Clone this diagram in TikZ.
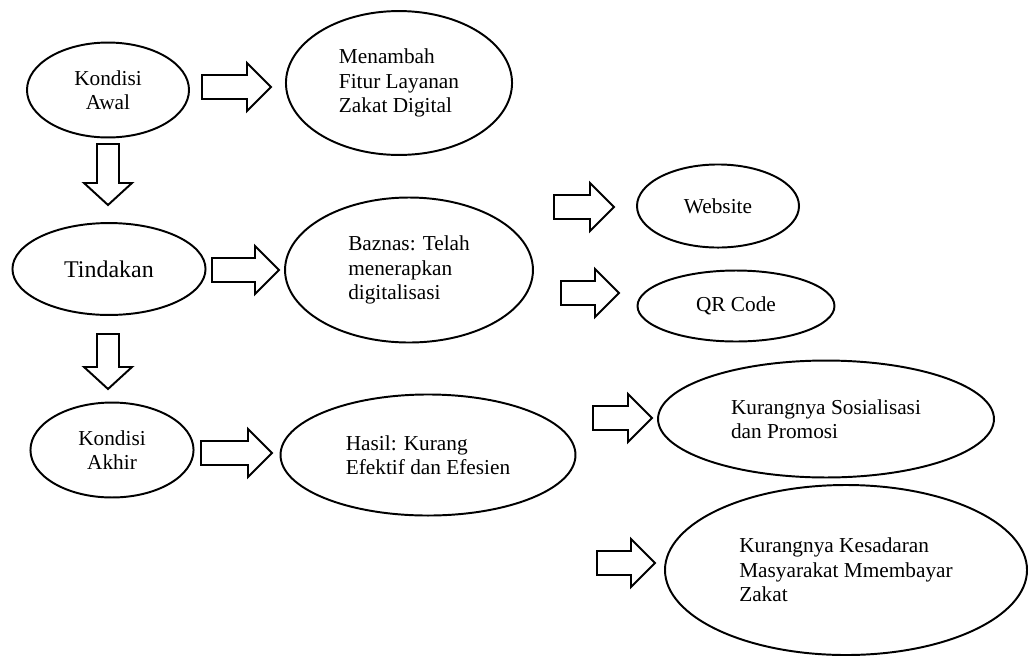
\documentclass[tikz,border=0pt]{standalone}
\usepackage{fontspec}
\setmainfont{Liberation Serif}
\usetikzlibrary{shapes.geometric}

\begin{document}
\begin{tikzpicture}[
        x=0.5635pt, y=-0.5635pt,
        oval/.style={ellipse, draw, line width=1.1pt, inner sep=0pt, align=left, font=\fontsize{12}{13.8}\selectfont},
        blockline/.style={draw, line width=1.1pt, line join=miter, fill=white},
        rarrow/.pic={\draw[blockline] (0,-12) -- (#1-24,-12) -- (#1-24,-24) -- (#1,0) -- (#1-24,24) -- (#1-24,12) -- (0,12) -- cycle;},
        darrow/.pic={\draw[blockline] (-11,0) -- (-11,#1-22) -- (-24,#1-22) -- (0,#1) -- (24,#1-22) -- (11,#1-22) -- (11,0) -- cycle;}
    ]
    \useasboundingbox (0,0) rectangle (1029,655);

    % Left column
    \node[oval, align=center, minimum width=91.3pt, minimum height=53.5pt] (awal) at (108,90) {Kondisi\\Awal};
    \node[oval, align=center, minimum width=108.8pt, minimum height=51.8pt, font=\fontsize{13.5}{15.5}\selectfont] (tindakan) at (109,269) {Tindakan};
    \node[oval, align=center, minimum width=91.9pt, minimum height=53.5pt] (akhir) at (112,450) {Kondisi\\Akhir};

    % Middle column
    \node[oval, minimum width=127.4pt, minimum height=81.1pt] (fitur) at (399,83) {Menambah\\Fitur Layanan\\Zakat Digital};
    \node[oval, minimum width=139.7pt, minimum height=81.7pt] (baznas) at (409,270) {Baznas: Telah\\menerapkan\\digitalisasi};
    \node[oval, minimum width=166.2pt, minimum height=68.2pt] (hasil) at (428,455) {Hasil: Kurang\\Efektif dan Efesien};

    % Right column
    \node[oval, minimum width=91.3pt, minimum height=46.8pt] (website) at (718,206) {Website};
    \node[oval, minimum width=111pt, minimum height=40pt] (qrcode) at (736,306) {QR Code};
    \node[oval, minimum width=189.3pt, minimum height=65.9pt] (sosialisasi) at (826,419) {Kurangnya Sosialisasi\\dan Promosi};
    \node[oval, minimum width=204pt, minimum height=95.8pt] (kesadaran) at (846,570) {Kurangnya Kesadaran\\Masyarakat Mmembayar\\Zakat};

    % Block arrows
    \pic at (202,87) {rarrow=69};
    \pic at (212,270) {rarrow=67};
    \pic at (201,453) {rarrow=71};
    \pic at (554,207) {rarrow=60};
    \pic at (561,293) {rarrow=58};
    \pic at (593,418) {rarrow=59};
    \pic at (597,563) {rarrow=58};
    \pic at (108,144) {darrow=61};
    \pic at (108,334) {darrow=55};

\end{tikzpicture}
\end{document}
